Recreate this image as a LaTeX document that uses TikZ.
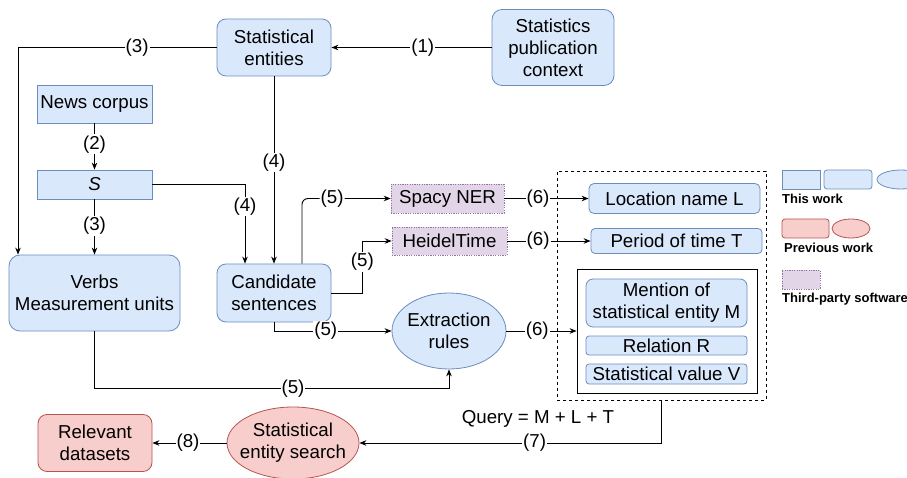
\documentclass[tikz,border=0pt]{standalone}
\usepackage{fontspec}
\setmainfont{Liberation Sans}
\usetikzlibrary{shapes.geometric,arrows.meta,calc}
\definecolor{bfill}{HTML}{DAE8FC}
\definecolor{bdraw}{HTML}{6C8EBF}
\definecolor{rfill}{HTML}{F8CECC}
\definecolor{rdraw}{HTML}{B85450}
\definecolor{pfill}{HTML}{E1D5E7}
\definecolor{pdraw}{HTML}{9673A6}
\begin{document}
\begin{tikzpicture}[x=1pt,y=-1pt,
  font=\fontsize{18.7}{22}\selectfont,
  bluebox/.style={draw=bdraw,fill=bfill,line width=0.8pt,inner sep=0pt,align=center},
  redbox/.style={draw=rdraw,fill=rfill,line width=0.8pt,inner sep=0pt,align=center},
  thirdp/.style={draw=pdraw,fill=pfill,dash pattern=on 1.2pt off 1.2pt,line width=0.6pt,inner sep=0pt},
  arr/.style={draw,line width=0.9pt,-{Stealth[length=7pt,width=5.5pt]}},
  lbl/.style={fill=white,inner sep=1pt},
  legtxt/.style={font=\fontsize{13}{15}\selectfont\bfseries,anchor=west,inner sep=0pt}]
\useasboundingbox[fill=white] (0,0) rectangle (907,478);
% main nodes
\node[bluebox,rounded corners=9pt,minimum width=114pt,minimum height=57pt] (ent) at (274,47.5) {Statistical\\entities};
\node[bluebox,rounded corners=10pt,minimum width=122pt,minimum height=76pt] (pub) at (553,47.5) {Statistics\\publication\\context};
\node[bluebox,minimum width=115pt,minimum height=38pt] (news) at (94.5,104) {News corpus};
\node[bluebox,minimum width=115pt,minimum height=29pt] (S) at (94.5,184.5) {\textit{S}};
\node[bluebox,rounded corners=11pt,minimum width=171pt,minimum height=76pt] (verbs) at (94.5,293) {Verbs\\Measurement units};
\node[bluebox,rounded corners=9pt,minimum width=114pt,minimum height=58pt] (cand) at (274,293) {Candidate\\sentences};
\node[thirdp,minimum width=113pt,minimum height=29pt] (spacy) at (447.5,198.5) {Spacy NER};
\node[thirdp,minimum width=115pt,minimum height=28pt] (heidel) at (449.5,241) {HeidelTime};
\node[bluebox,ellipse,minimum width=114pt,minimum height=76pt] (ext) at (449,331) {};
\node[align=center,inner sep=0pt] (exttxt) at (ext) {Extraction\\rules};
\node[draw,dash pattern=on 3pt off 3pt,line width=0.8pt,minimum width=209pt,minimum height=229pt,inner sep=0pt] (dbox) at (661.5,285.5) {};
\node[draw,line width=0.8pt,minimum width=180pt,minimum height=124pt,inner sep=0pt] (inner) at (667,331) {};
\node[bluebox,rounded corners=5pt,minimum width=171pt,minimum height=30pt] (loc) at (674.5,198.5) {Location name L};
\node[bluebox,rounded corners=4pt,minimum width=171pt,minimum height=25pt] (per) at (676.5,241) {Period of time T};
\node[bluebox,rounded corners=7pt,minimum width=161pt,minimum height=48pt] (men) at (666.5,303) {Mention of\\statistical entity M};
\node[bluebox,rounded corners=3pt,minimum width=161pt,minimum height=19pt] (rel) at (666.5,345.5) {Relation R};
\node[bluebox,rounded corners=3pt,minimum width=161pt,minimum height=20pt] (val) at (666.5,374) {Statistical value V};
\node[redbox,ellipse,minimum width=132pt,minimum height=72pt] (search) at (293,443) {};
\node[align=center,inner sep=0pt] (searchtxt) at (search) {Statistical\\entity search};
\node[redbox,rounded corners=9pt,minimum width=114pt,minimum height=57pt] (relv) at (95,443) {Relevant\\datasets};
\node[inner sep=0pt] (query) at (538,419) {Query = M + L + T};
% legend
\node[bluebox,minimum width=38pt,minimum height=19pt] (lg1) at (801,179.5) {};
\node[bluebox,rounded corners=3pt,minimum width=48pt,minimum height=19pt] (lg2) at (848,179.5) {};
\node[bluebox,ellipse,minimum width=48pt,minimum height=19pt] (lg3) at (901,179.5) {};
\node[legtxt] (lt1) at (782,199) {This work};
\node[redbox,rounded corners=3pt,minimum width=47pt,minimum height=19pt] (lg4) at (805.5,228.5) {};
\node[redbox,ellipse,minimum width=38pt,minimum height=19pt] (lg5) at (851,228.5) {};
\node[legtxt] (lt2) at (784,248) {Previous work};
\node[thirdp,minimum width=38pt,minimum height=19pt] (lg6) at (801,279.5) {};
\node[legtxt] (lt3) at (782,299) {Third-party software};
% connectors
\draw[arr] (pub.west) -- node[lbl,pos=0.43]{(1)} (ent.east);
\draw[arr] (ent.west) -| node[lbl,pos=0.2]{(3)} ([xshift=-76.5pt]verbs.north);
\draw[arr] (news.south) -- node[lbl,pos=0.45]{(2)} (S.north);
\draw[arr] (S.south) -- node[lbl,pos=0.48]{(3)} (verbs.north);
\draw[arr] (ent.south) -- node[lbl,pos=0.46]{(4)} (cand.north);
\draw[arr] (S.east) -| node[lbl,pos=0.64]{(4)} ([xshift=-29pt]cand.north);
\draw[arr,rounded corners=6pt] ([xshift=28pt]cand.north) |- node[lbl,pos=0.67]{(5)} (spacy.west);
\draw[arr] (cand.east) -- ++(31,0) |- node[lbl,pos=0.3]{(5)} (heidel.west);
\draw[arr] (cand.south) |- node[lbl,pos=0.72]{(5)} (ext.west);
\draw[arr] (verbs.south) -- ++(0,57) -| node[lbl,pos=0.28]{(5)} (ext.south);
\draw[arr] (spacy.east) -- node[lbl,pos=0.4]{(6)} (loc.west);
\draw[arr] (heidel.east) -- node[lbl,pos=0.37]{(6)} (per.west);
\draw[arr] (ext.east) -- node[lbl,pos=0.44]{(6)} (inner.west);
\draw[arr] (dbox.south) |- node[lbl,pos=0.71]{(7)} (search.east);
\draw[arr] (search.west) -- node[lbl,pos=0.52]{(8)} (relv.east);
\end{tikzpicture}
\end{document}
